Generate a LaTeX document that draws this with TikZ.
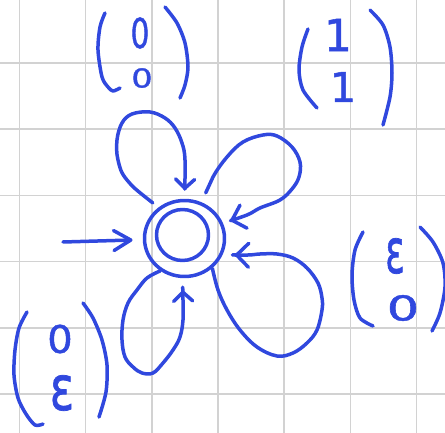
\documentclass[tikz,border=0pt]{standalone}
\usepackage{fontspec}
\usepackage{graphicx}
\newfontfamily\hand[FakeBold=1.2]{DejaVu Sans}
\usetikzlibrary{arrows.meta,shapes.geometric}
\definecolor{ink}{RGB}{48,72,222}
\definecolor{gridc}{RGB}{210,210,210}
\begin{document}
\begin{tikzpicture}[x=1pt,y=-1pt,
  stroke/.style={ink, line width=3.5pt, line cap=round, line join=round},
  gridline/.style={gridc, line width=1.5pt},
  ring/.style={stroke, draw, ellipse, inner sep=0pt},
  loopline/.style={stroke, -{Straight Barb[length=12pt,width=24pt,round]}},
  smallloop/.style={stroke, -{Straight Barb[length=9pt,width=19pt,round]}},
  initline/.style={stroke, -{Straight Barb[length=17pt,width=20pt,round]}},
  paren/.style={stroke},
  glyph/.style={ink, inner sep=0pt, anchor=center}]
\useasboundingbox (0,0) rectangle (445,433);
% grid
\foreach \i in {0,...,6} \draw[gridline] ({19.4+66.2*\i},0) -- ({19.4+66.2*\i},433);
\foreach \j in {0,...,6} \draw[gridline] (0,{-3.2+66.2*\j}) -- (445,{-3.2+66.2*\j});
% state
\node[ring, minimum width=80pt, minimum height=76pt, outer sep=2pt] (s) at (184.5,238.5) {};
\node[ring, minimum width=52pt, minimum height=51pt] (si) at (182.5,235) {};
% initial arrow
\coordinate (init) at (63,242);
\draw[initline, shorten >=10pt] (init) -- (s);
% loops
\draw[smallloop, shorten <=7pt, shorten >=8.5pt] plot[smooth, tension=0.6] coordinates {(s.130) (127,180) (118,160) (117,140) (122,123) (132,114) (150,112) (165,118) (175,128) (182,143) (185,160) (s.90)};
\draw[loopline, shorten <=10pt, shorten >=7.5pt] plot[smooth, tension=0.6] coordinates {(s.64) (213,177) (227,157) (243,142) (263,135) (277,136) (292,147) (300,162) (299,177) (292,189) (280,200) (260,208) (247,215) (s.22)};
\draw[loopline, shorten >=12pt] plot[smooth, tension=0.6] coordinates {(s.313) (218,290) (227,310) (240,330) (257,347) (277,356) (293,353) (307,343) (317,330) (322,310) (322,298) (318,283) (307,268) (293,258) (277,254) (260,254) (248,255) (s.337)};
\draw[smallloop, shorten >=12pt] plot[smooth, tension=0.6] coordinates {(s.233) (147,278) (137,290) (128,303) (123,320) (122,340) (125,357) (133,367) (142,373) (153,373) (163,363) (173,350) (180,337) (183,320) (183,300) (s.267)};
% label 1: (0 0)
\draw[paren] plot[smooth] coordinates {(105,13) (100,27) (98,50) (102,77) (108,87) (113,91) (120,88)};
\draw[paren] plot[smooth] coordinates {(165,7) (177,23) (185,43) (188,67) (185,85) (180,98)};
\node[glyph, font=\hand\fontsize{41pt}{41pt}\selectfont] (l1a) at (140,33) {\scalebox{0.72}[1]{0}};
\node[glyph, font=\hand\fontsize{26pt}{26pt}\selectfont] (l1b) at (142,78) {\scalebox{1.3}[1]{0}};
% label 2: (1 1)
\draw[paren] plot[smooth] coordinates {(308,29) (302,47) (299,70) (303,90) (317,108)};
\draw[paren] plot[smooth] coordinates {(370,10) (383,25) (390,47) (392,73) (390,97) (383,125)};
\node[glyph, font=\hand\fontsize{44pt}{44pt}\selectfont] (l2a) at (338,35) {1};
\node[glyph, font=\hand\fontsize{41pt}{41pt}\selectfont] (l2b) at (343,87) {1};
% label 3: (eps 0)
\draw[paren] plot[smooth] coordinates {(363,232) (355,250) (352,275) (354,300) (360,318) (373,326)};
\draw[paren] plot[smooth] coordinates {(420,227) (433,242) (443,263) (445,287) (440,313) (432,331)};
\node[glyph, font=\hand\fontsize{62pt}{62pt}\selectfont] (l3a) at (395,256) {\scalebox{0.58}[1]{ε}};
\node[glyph, font=\hand\fontsize{34pt}{34pt}\selectfont] (l3b) at (403,308) {\scalebox{1.5}[1]{0}};
% label 4: (0 eps)
\draw[paren] plot[smooth] coordinates {(27,312) (19,328) (15,350) (14,375) (18,398) (26,414) (35,425) (43,424)};
\draw[paren] plot[smooth] coordinates {(83,303) (93,318) (102,340) (107,365) (106,392) (99,417)};
\node[glyph, font=\hand\fontsize{38pt}{38pt}\selectfont] (l4a) at (60,339) {\scalebox{1.05}[1]{0}};
\node[glyph, font=\hand\fontsize{62pt}{62pt}\selectfont] (l4b) at (62,393) {\scalebox{0.73}[1]{ε}};
\end{tikzpicture}
\end{document}
